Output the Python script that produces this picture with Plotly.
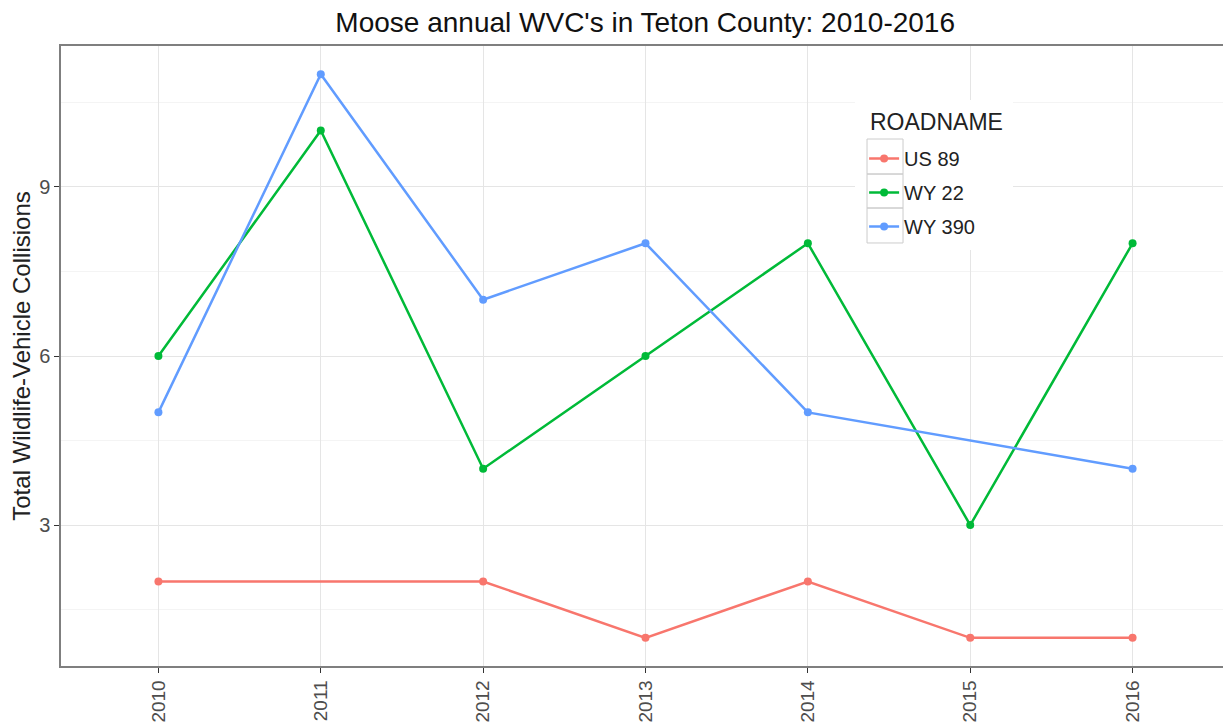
import plotly.graph_objects as go

years = [2010, 2011, 2012, 2013, 2014, 2015, 2016]
us89 = [2, None, 2, 1, 2, 1, 1]
wy22 = [6, 10, 4, 6, 8, 3, 8]
wy390 = [5, 11, 7, 8, 5, None, 4]
series_names = ["US 89", "WY 22", "WY 390"]
series_values = [us89, wy22, wy390]
colors = ["#F8766D", "#00BA38", "#619CFF"]

fig = go.Figure()
for name, vals, col in zip(series_names, series_values, colors):
    fig.add_trace(go.Scatter(
        x=years, y=vals, name=name, mode="lines+markers",
        connectgaps=True, legendgroup=name,
        line=dict(color=col, width=2.5),
        marker=dict(color=col, size=8),
    ))

# legend panel background and key boxes (ggplot theme_bw style)
fig.add_shape(type="rect", xref="paper", yref="paper",
              x0=0.6792, x1=0.8144, y0=0.671, y1=0.913,
              fillcolor="white", line=dict(width=0), layer="above")
key_edges = [0.85, 0.7935, 0.7387, 0.6823]
for i in range(3):
    fig.add_shape(type="rect", xref="paper", yref="paper",
                  x0=0.6895, x1=0.7203, y0=key_edges[i + 1], y1=key_edges[i],
                  fillcolor="rgba(0,0,0,0)", line=dict(color="#cccccc", width=1),
                  layer="above")

fig.add_annotation(text="ROADNAME", xref="paper", yref="paper",
                   x=0.690, y=0.877, xanchor="left", yanchor="middle",
                   showarrow=False, font=dict(size=23, color="#222222"))

# page body has an 8px margin, so the figure is sized to fit inside the window
fig.update_layout(
    width=1223, height=715,
    margin=dict(l=53, r=1, t=38, b=57),
    paper_bgcolor="white", plot_bgcolor="white",
    font=dict(family="Liberation Sans, Arial, sans-serif", color="#333333"),
    title=dict(text="Moose annual WVC's in Teton County: 2010-2016",
               x=0.521, xanchor="center", y=0.980, yanchor="middle",
               font=dict(size=28, color="#111111")),
    legend=dict(
        font=dict(size=20, color="#222222"),
        x=0.687, xanchor="left", y=0.85, yanchor="top",
        bgcolor="rgba(0,0,0,0)", borderwidth=0,
        itemwidth=30, tracegroupgap=5,
    ),
)
fig.update_xaxes(
    range=[2009.4, 2016.6], tickmode="array", tickvals=years,
    ticktext=[str(y) for y in years], tickangle=-90,
    tickfont=dict(size=19, color="#4d4d4d"),
    ticks="outside", ticklen=5, tickcolor="#333333",
    showgrid=True, gridcolor="#e5e5e5", gridwidth=1,
    showline=True, linecolor="#7f7f7f", linewidth=1.5, mirror=True,
    zeroline=False, automargin=False,
)
fig.update_yaxes(
    range=[0.5, 11.5], tickmode="array", tickvals=[3, 6, 9],
    tickfont=dict(size=20, color="#4d4d4d"),
    ticks="outside", ticklen=5, tickcolor="#333333",
    showgrid=True, gridcolor="#e5e5e5", gridwidth=1,
    minor=dict(tickvals=[1.5, 4.5, 7.5, 10.5], showgrid=True, gridcolor="#f4f4f4", gridwidth=1),
    showline=True, linecolor="#7f7f7f", linewidth=1.5, mirror=True,
    zeroline=False, automargin=False,
    title=dict(text="Total Wildlife-Vehicle Collisions", font=dict(size=24, color="#222222"), standoff=8),
)

fig.write_html("out.html")
